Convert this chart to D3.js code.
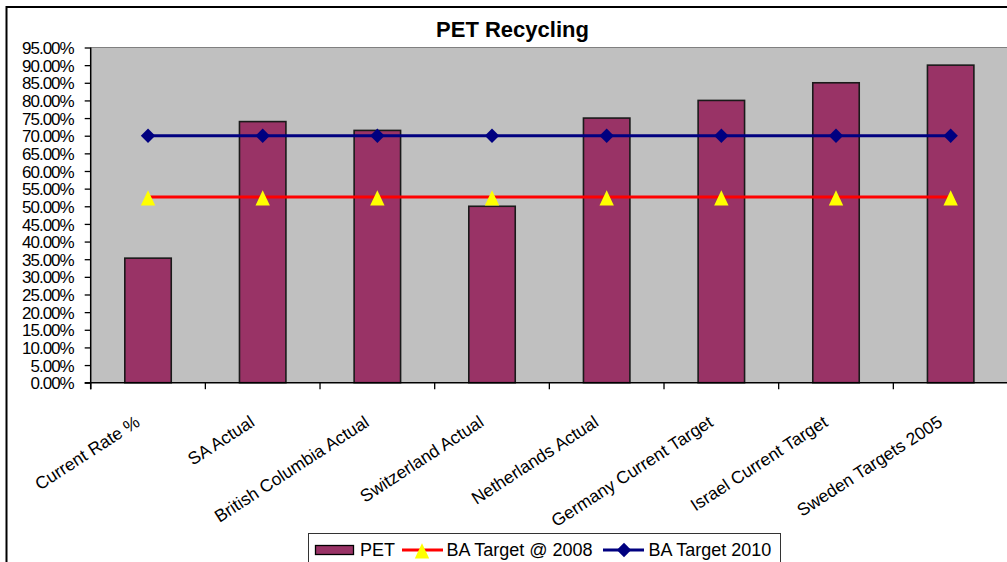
<!DOCTYPE html>
<html>
<head>
<meta charset="utf-8">
<script src="https://cdn.jsdelivr.net/npm/d3@7"></script>
<style>
  html, body { margin: 0; padding: 0; background: #fff; }
  svg { display: block; font-family: Arial, "Liberation Sans", sans-serif; }
</style>
</head>
<body>
<svg id="chart" width="1007" height="562"></svg>
<script>
// PET recycling rates by region, with two BA target lines
const categories = [
  "Current Rate %",
  "SA Actual",
  "British Columbia Actual",
  "Switzerland Actual",
  "Netherlands Actual",
  "Germany Current Target",
  "Israel Current Target",
  "Sweden Targets 2005"
];
const petValues = [0.353, 0.74, 0.715, 0.50, 0.75, 0.80, 0.85, 0.90];
const target2008 = [0.526, 0.526, 0.526, 0.526, 0.526, 0.526, 0.526, 0.526];
const target2010 = [0.70, 0.70, 0.70, 0.70, 0.70, 0.70, 0.70, 0.70];
const yTicks = [0, 0.05, 0.10, 0.15, 0.20, 0.25, 0.30, 0.35, 0.40, 0.45, 0.50,
                0.55, 0.60, 0.65, 0.70, 0.75, 0.80, 0.85, 0.90, 0.95];
const seriesNames = ["PET", "BA Target @ 2008", "BA Target 2010"];

const svg = d3.select("#chart");

const plot = { left: 90.7, right: 1008, top: 47.5, bottom: 382.7 };

const x = d3.scaleBand().domain(categories).range([plot.left, plot.right]).padding(0);
const y = d3.scaleLinear().domain([0, 0.95]).range([plot.bottom, plot.top]);
const barW = x.bandwidth() * 0.405;
const cx = d => x(d) + x.bandwidth() / 2;

// outer chart border
svg.append("rect")
  .attr("x", 6.5).attr("y", 7).attr("width", 1100).attr("height", 700)
  .attr("fill", "#fff").attr("stroke", "#000").attr("stroke-width", 2);

// title
svg.append("text")
  .attr("x", 512.5).attr("y", 37)
  .attr("text-anchor", "middle")
  .attr("font-weight", "bold").attr("font-size", 22)
  .attr("fill", "#000")
  .text("PET Recycling");

// plot background
svg.append("rect")
  .attr("x", plot.left).attr("y", plot.top)
  .attr("width", plot.right - plot.left).attr("height", plot.bottom - plot.top)
  .attr("fill", "#C0C0C0");
svg.append("line")
  .attr("x1", plot.left).attr("x2", plot.right)
  .attr("y1", plot.top).attr("y2", plot.top)
  .attr("stroke", "#808080").attr("stroke-width", 1.2);

// y axis
const yAxis = d3.axisLeft(y)
  .tickValues(yTicks)
  .tickFormat(d3.format(".2%"))
  .tickSize(6).tickSizeOuter(0).tickPadding(11);
const gy = svg.append("g").attr("transform", `translate(${plot.left},0)`).call(yAxis);
gy.select(".domain").remove();
gy.selectAll(".tick line").attr("stroke", "#000").attr("stroke-width", 1.3);
gy.selectAll(".tick text")
  .attr("font-size", 17).attr("letter-spacing", "-1px")
  .attr("font-family", "Arial, 'Liberation Sans', sans-serif")
  .attr("fill", "#000").attr("dy", "0.36em");
svg.append("line")
  .attr("x1", plot.left).attr("x2", plot.left)
  .attr("y1", plot.top).attr("y2", plot.bottom + 6.5)
  .attr("stroke", "#000").attr("stroke-width", 1.5);

// x axis: ticks at category boundaries
const bounds = categories.map(c => x(c)).concat([plot.right]);
svg.append("g").selectAll("line").data(bounds).join("line")
  .attr("x1", d => d).attr("x2", d => d)
  .attr("y1", plot.bottom).attr("y2", plot.bottom + 6.5)
  .attr("stroke", "#000").attr("stroke-width", 1.3);

// bars
svg.append("g").selectAll("rect").data(categories).join("rect")
  .attr("x", d => cx(d) - barW / 2)
  .attr("y", (d, i) => y(petValues[i]))
  .attr("width", barW)
  .attr("height", (d, i) => plot.bottom - y(petValues[i]))
  .attr("fill", "#993366")
  .attr("stroke", "#1a1a1a").attr("stroke-width", 1.6);

svg.append("line")
  .attr("x1", plot.left - 6).attr("x2", plot.right)
  .attr("y1", plot.bottom).attr("y2", plot.bottom)
  .attr("stroke", "#000").attr("stroke-width", 1.5);

// category labels
svg.append("g").selectAll("text").data(categories).join("text")
  .attr("transform", d => `translate(${cx(d) - 7},${425}) rotate(-33)`)
  .attr("text-anchor", "end")
  .attr("font-size", 17.5)
  .attr("fill", "#000")
  .text(d => d);

// BA Target @ 2008
const line = d3.line().x((d, i) => cx(categories[i])).y(d => y(d));
svg.append("path").datum(target2008)
  .attr("d", line).attr("fill", "none")
  .attr("stroke", "#FF0000").attr("stroke-width", 3);
const triPath = "M0,-6.8 L7.2,8.4 L-7.2,8.4 Z";
svg.append("g").selectAll("path").data(target2008).join("path")
  .attr("transform", (d, i) => `translate(${cx(categories[i])},${y(d)})`)
  .attr("d", triPath).attr("fill", "#FFFF00");

// BA Target 2010
svg.append("path").datum(target2010)
  .attr("d", line).attr("fill", "none")
  .attr("stroke", "#000080").attr("stroke-width", 3);
const diaPath = "M0,-7.3 L7.2,0 L0,7.3 L-7.2,0 Z";
svg.append("g").selectAll("path").data(target2010).join("path")
  .attr("transform", (d, i) => `translate(${cx(categories[i])},${y(d)})`)
  .attr("d", diaPath).attr("fill", "#000080");

// legend
const lg = svg.append("g");
lg.append("rect")
  .attr("x", 308.5).attr("y", 533.5).attr("width", 472).attr("height", 40)
  .attr("fill", "#fff").attr("stroke", "#333").attr("stroke-width", 1);
lg.append("rect")
  .attr("x", 315.5).attr("y", 545.5).attr("width", 38).attr("height", 9)
  .attr("fill", "#993366").attr("stroke", "#000").attr("stroke-width", 1.3);
lg.append("text").attr("x", 360).attr("y", 556).attr("font-size", 18)
  .attr("fill", "#000").text(seriesNames[0]);
lg.append("line").attr("x1", 402).attr("x2", 443).attr("y1", 550).attr("y2", 550)
  .attr("stroke", "#FF0000").attr("stroke-width", 3);
lg.append("path").attr("transform", "translate(422,550)").attr("d", triPath).attr("fill", "#FFFF00");
lg.append("text").attr("x", 446.5).attr("y", 556).attr("font-size", 18)
  .attr("fill", "#000").text(seriesNames[1]);
lg.append("line").attr("x1", 603).attr("x2", 644).attr("y1", 550).attr("y2", 550)
  .attr("stroke", "#000080").attr("stroke-width", 3);
lg.append("path").attr("transform", "translate(624,550)").attr("d", diaPath).attr("fill", "#000080");
lg.append("text").attr("x", 648.5).attr("y", 556).attr("font-size", 18)
  .attr("fill", "#000").text(seriesNames[2]);
</script>
</body>
</html>
